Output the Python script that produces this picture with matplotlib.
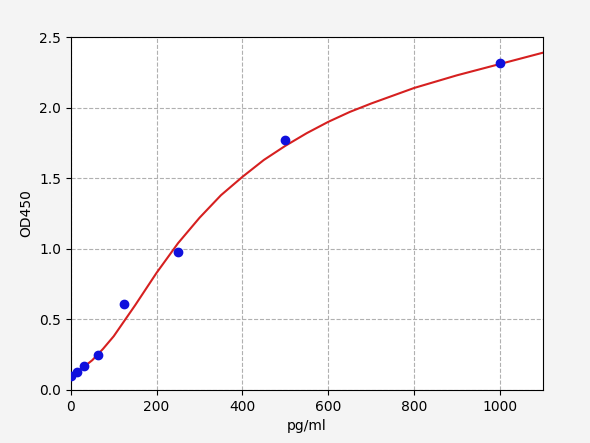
import matplotlib
matplotlib.use("Agg")
import matplotlib.pyplot as plt

conc = [0, 15.6, 31.25, 62.5, 125, 250, 500, 1000]
od = [0.10, 0.13, 0.17, 0.25, 0.61, 0.98, 1.77, 2.32]

curve_x = [0, 25, 50, 75, 100, 125, 150, 200, 250, 300, 350, 400, 450, 500, 550, 600, 650, 700, 800, 900, 1000, 1100]
curve_y = [0.10, 0.15, 0.21, 0.29, 0.38, 0.49, 0.60, 0.83, 1.04, 1.22, 1.38, 1.51, 1.63, 1.73, 1.82, 1.90, 1.97, 2.03, 2.14, 2.23, 2.31, 2.39]

fig = plt.figure(figsize=(5.9, 4.43), dpi=100, facecolor="#f4f4f4")
ax = fig.add_axes([0.12, 0.12, 0.8, 0.796])
ax.set_facecolor("white")
ax.plot(curve_x, curve_y, color="#d62020", lw=1.5, zorder=2)
ax.scatter(conc, od, color="#1010dd", s=36, zorder=3)
ax.set_xlim(0, 1100)
ax.set_ylim(0, 2.5)
ax.set_xticks([0, 200, 400, 600, 800, 1000])
ax.set_yticks([0, 0.5, 1.0, 1.5, 2.0, 2.5])
ax.grid(True, linestyle="--", color="#b0b0b0", lw=0.8)
ax.set_axisbelow(True)
ax.set_xlabel("pg/ml")
ax.set_ylabel("OD450")
fig.savefig("out.png", dpi=100, facecolor=fig.get_facecolor())
